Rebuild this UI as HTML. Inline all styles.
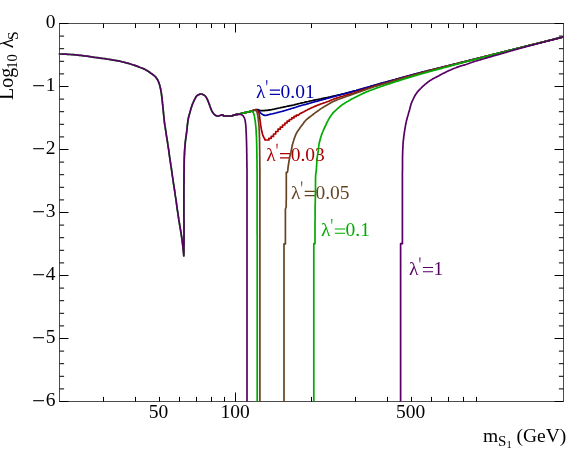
<!DOCTYPE html><html><head><meta charset="utf-8"><style>html,body{margin:0;padding:0;background:#fff}svg{display:block;will-change:transform}text{font-family:"Liberation Serif",serif}</style></head><body>
<svg width="581" height="450" viewBox="0 0 581 450">
<rect width="581" height="450" fill="#fff"/>
<text x="256.00" y="97.50" font-size="19.5" fill="#0000aa">λ</text>
<path d="M266.15 80.20h1.3l-0.35 5.0h-0.6z" fill="#0000aa"/>
<path d="M269.80 90.10h10.2M269.80 94.30h10.2" stroke="#0000aa" stroke-width="1.15" fill="none"/>
<text x="280.50" y="97.50" font-size="19.5" fill="#0000aa">0.01</text>
<text x="266.20" y="161.00" font-size="19.5" fill="#aa0000">λ</text>
<path d="M276.35 143.70h1.3l-0.35 5.0h-0.6z" fill="#aa0000"/>
<path d="M280.00 153.60h10.2M280.00 157.80h10.2" stroke="#aa0000" stroke-width="1.15" fill="none"/>
<text x="290.70" y="161.00" font-size="19.5" fill="#aa0000">0.03</text>
<text x="290.90" y="198.80" font-size="19.5" fill="#664422">λ</text>
<path d="M301.05 181.50h1.3l-0.35 5.0h-0.6z" fill="#664422"/>
<path d="M304.70 191.40h10.2M304.70 195.60h10.2" stroke="#664422" stroke-width="1.15" fill="none"/>
<text x="315.40" y="198.80" font-size="19.5" fill="#664422">0.05</text>
<text x="321.00" y="236.40" font-size="19.5" fill="#00aa00">λ</text>
<path d="M331.15 219.10h1.3l-0.35 5.0h-0.6z" fill="#00aa00"/>
<path d="M334.80 229.00h10.2M334.80 233.20h10.2" stroke="#00aa00" stroke-width="1.15" fill="none"/>
<text x="345.50" y="236.40" font-size="19.5" fill="#00aa00">0.1</text>
<text x="409.10" y="274.90" font-size="19.5" fill="#560064">λ</text>
<path d="M419.25 257.60h1.3l-0.35 5.0h-0.6z" fill="#560064"/>
<path d="M422.90 267.50h10.2M422.90 271.70h10.2" stroke="#560064" stroke-width="1.15" fill="none"/>
<text x="433.60" y="274.90" font-size="19.5" fill="#560064">1</text>
<g stroke="#000" stroke-width="1" fill="none" shape-rendering="auto">
<rect x="59.5" y="23.5" width="504.0" height="378.0" stroke="#222" stroke-width="0.8"/>
<path d="M59.5 23.50h9.0 M563.5 23.50h-9.0"/>
<path d="M59.5 36.10h4.6 M563.5 36.10h-4.6"/>
<path d="M59.5 48.70h4.6 M563.5 48.70h-4.6"/>
<path d="M59.5 61.30h4.6 M563.5 61.30h-4.6"/>
<path d="M59.5 73.90h4.6 M563.5 73.90h-4.6"/>
<path d="M59.5 86.50h9.0 M563.5 86.50h-9.0"/>
<path d="M59.5 99.10h4.6 M563.5 99.10h-4.6"/>
<path d="M59.5 111.70h4.6 M563.5 111.70h-4.6"/>
<path d="M59.5 124.30h4.6 M563.5 124.30h-4.6"/>
<path d="M59.5 136.90h4.6 M563.5 136.90h-4.6"/>
<path d="M59.5 149.50h9.0 M563.5 149.50h-9.0"/>
<path d="M59.5 162.10h4.6 M563.5 162.10h-4.6"/>
<path d="M59.5 174.70h4.6 M563.5 174.70h-4.6"/>
<path d="M59.5 187.30h4.6 M563.5 187.30h-4.6"/>
<path d="M59.5 199.90h4.6 M563.5 199.90h-4.6"/>
<path d="M59.5 212.50h9.0 M563.5 212.50h-9.0"/>
<path d="M59.5 225.10h4.6 M563.5 225.10h-4.6"/>
<path d="M59.5 237.70h4.6 M563.5 237.70h-4.6"/>
<path d="M59.5 250.30h4.6 M563.5 250.30h-4.6"/>
<path d="M59.5 262.90h4.6 M563.5 262.90h-4.6"/>
<path d="M59.5 275.50h9.0 M563.5 275.50h-9.0"/>
<path d="M59.5 288.10h4.6 M563.5 288.10h-4.6"/>
<path d="M59.5 300.70h4.6 M563.5 300.70h-4.6"/>
<path d="M59.5 313.30h4.6 M563.5 313.30h-4.6"/>
<path d="M59.5 325.90h4.6 M563.5 325.90h-4.6"/>
<path d="M59.5 338.50h9.0 M563.5 338.50h-9.0"/>
<path d="M59.5 351.10h4.6 M563.5 351.10h-4.6"/>
<path d="M59.5 363.70h4.6 M563.5 363.70h-4.6"/>
<path d="M59.5 376.30h4.6 M563.5 376.30h-4.6"/>
<path d="M59.5 388.90h4.6 M563.5 388.90h-4.6"/>
<path d="M59.5 401.50h9.0 M563.5 401.50h-9.0"/>
<path d="M103.50 401.5v-4.6 M103.50 23.5v4.6"/>
<path d="M135.50 401.5v-4.6 M135.50 23.5v4.6"/>
<path d="M159.50 401.5v-4.6 M159.50 23.5v4.6"/>
<path d="M179.50 401.5v-4.6 M179.50 23.5v4.6"/>
<path d="M196.50 401.5v-4.6 M196.50 23.5v4.6"/>
<path d="M211.50 401.5v-4.6 M211.50 23.5v4.6"/>
<path d="M224.50 401.5v-4.6 M224.50 23.5v4.6"/>
<path d="M235.50 401.5v-9.0 M235.50 23.5v9.0"/>
<path d="M311.50 401.5v-4.6 M311.50 23.5v4.6"/>
<path d="M355.50 401.5v-4.6 M355.50 23.5v4.6"/>
<path d="M387.50 401.5v-4.6 M387.50 23.5v4.6"/>
<path d="M411.50 401.5v-4.6 M411.50 23.5v4.6"/>
<path d="M431.50 401.5v-4.6 M431.50 23.5v4.6"/>
<path d="M448.50 401.5v-4.6 M448.50 23.5v4.6"/>
<path d="M463.50 401.5v-4.6 M463.50 23.5v4.6"/>
<path d="M476.50 401.5v-4.6 M476.50 23.5v4.6"/>
</g>
<g clip-path="url(#c)">
<clipPath id="c"><rect x="58.5" y="23.5" width="506.0" height="378.6"/></clipPath>
<polyline points="221.8,114.9 223.2,115.5 223.3,115.5 224.6,116.0 224.6,116.0 226.1,116.0 227.6,116.0 229.1,116.0 230.6,116.0 230.8,116.0 232.1,115.8 233.5,115.3 234.2,115.1 235.0,114.9 236.4,114.5 237.4,114.3 237.9,114.2 239.3,113.9 240.8,113.6 242.3,113.2 243.7,112.9 245.2,112.6 245.7,112.5 246.7,112.3 248.1,112.0 249.6,111.6 251.0,111.2 251.2,111.2 252.5,110.8 253.9,110.2 255.3,109.7 256.7,109.5 256.8,109.5 258.2,109.7 259.7,110.2 261.2,110.6 262.2,110.7 262.6,110.7 264.1,110.6 264.2,110.6 265.6,110.4 266.2,110.4 267.1,110.3 268.2,110.1 268.6,110.1 270.1,109.9 270.2,109.8 271.6,109.6 272.2,109.5 273.0,109.3 274.2,109.1 274.5,109.0 276.0,108.7 276.2,108.6 277.4,108.4 278.2,108.2 278.9,108.0 280.2,107.8 280.4,107.7 281.8,107.4 282.2,107.3 283.3,107.1 284.2,106.9 284.8,106.8 286.2,106.5 286.3,106.5 287.7,106.2 288.2,106.1 289.2,105.9 290.2,105.7 290.7,105.6 292.1,105.3 292.2,105.3 293.6,105.0 294.2,104.9 295.1,104.6 296.2,104.3 296.5,104.3 298.0,103.9 298.2,103.8 299.4,103.5 300.2,103.3 300.9,103.1 302.2,102.8 302.3,102.8 303.8,102.5 304.2,102.4 305.2,102.1 306.2,101.9 306.7,101.8 308.2,101.5 308.2,101.5 309.6,101.1 310.2,101.0 311.1,100.8 312.2,100.6 312.6,100.5 314.0,100.2 314.2,100.2 315.5,99.9 316.2,99.8 317.0,99.6 318.2,99.4 318.5,99.3 319.9,99.0 320.2,99.0 321.4,98.7 322.2,98.6 322.9,98.4 324.2,98.2 324.3,98.1 325.8,97.8 326.2,97.8 327.3,97.5 328.2,97.3 328.7,97.2 330.2,96.9 330.2,96.9 331.7,96.5 332.2,96.4 333.1,96.2 334.2,95.9 334.6,95.8 336.0,95.5 336.2,95.5 337.5,95.2 338.2,95.0 339.0,94.8 340.2,94.6 340.4,94.5 341.9,94.2 342.2,94.1 343.4,93.9 344.2,93.7 344.8,93.5 346.2,93.1 346.3,93.1 347.7,92.7 348.2,92.6 349.2,92.4 350.2,92.1 350.6,92.0 352.1,91.6 352.2,91.5 353.5,91.2 354.2,91.0 355.0,90.8 356.2,90.5 356.4,90.4 357.9,90.0 358.2,89.9 359.3,89.6 360.2,89.4 360.8,89.2 362.2,88.8 362.2,88.8 363.6,88.4 364.2,88.3 365.1,88.0 366.2,87.7 366.5,87.6 368.0,87.2 368.2,87.1 369.4,86.7 370.2,86.5 370.8,86.3 372.2,85.9 372.3,85.9 373.7,85.5 374.2,85.3 375.2,85.1 376.2,84.8 376.6,84.6 378.0,84.2 378.2,84.2 379.5,83.8 380.2,83.6 380.9,83.4 382.2,83.1 382.4,83.0 383.8,82.6 384.2,82.5 385.3,82.2 386.2,82.0 386.7,81.9 388.2,81.5 388.2,81.4 389.6,81.1 390.2,80.9 391.1,80.7 392.2,80.3 392.5,80.3 394.0,79.9 394.2,79.8 395.4,79.5 396.2,79.2 396.8,79.1 398.2,78.7 398.3,78.7 399.7,78.3 400.2,78.1 401.2,77.9 402.2,77.6 402.6,77.5 404.1,77.1 404.2,77.0 405.5,76.7 406.2,76.5 407.0,76.3 408.2,75.9 408.4,75.9 409.9,75.5 410.2,75.4 411.3,75.1 412.2,74.8 412.8,74.7 414.2,74.3 414.2,74.3 415.7,73.9 416.2,73.7 417.1,73.5 418.2,73.2 418.6,73.1 420.0,72.8 420.2,72.7 421.5,72.4 422.2,72.2 422.9,72.0 424.2,71.7 424.4,71.7 425.8,71.3 426.2,71.2 427.3,70.9 428.2,70.7 428.7,70.6 430.2,70.2 430.2,70.2 431.7,69.9 432.2,69.7 433.1,69.5 434.2,69.2 434.6,69.1 436.0,68.8 436.2,68.7 437.5,68.4 438.2,68.2 438.9,68.1 440.2,67.8 440.4,67.7 441.8,67.3 442.2,67.2 443.3,67.0 444.2,66.8 444.8,66.6 446.2,66.2 446.2,66.2 447.7,65.9 448.2,65.8 449.1,65.5 450.2,65.2 450.6,65.2 452.0,64.8 452.2,64.8 453.5,64.4 454.2,64.2 454.9,64.1 456.2,63.8 456.4,63.7 457.9,63.3 458.2,63.2 459.3,63.0 460.2,62.8 460.8,62.6 462.2,62.2 462.2,62.2 463.7,61.9 464.2,61.8 465.1,61.5 466.2,61.3 466.6,61.2 468.0,60.8 468.2,60.8 469.5,60.4 470.2,60.3 470.9,60.1 472.2,59.8 472.4,59.7 473.9,59.3 474.2,59.3 475.3,59.0 476.2,58.8 476.8,58.6 478.2,58.3 478.2,58.2 479.7,57.9 480.2,57.8 481.1,57.5 482.2,57.3 482.6,57.2 484.0,56.8 484.2,56.8 485.5,56.4 486.2,56.3 487.0,56.1 488.2,55.8 488.4,55.7 489.9,55.3 490.2,55.3 491.3,55.0 492.2,54.8 492.8,54.6 494.2,54.3 494.2,54.2 495.7,53.9 496.2,53.8 497.1,53.5 498.2,53.3 498.6,53.2 500.1,52.8 500.2,52.7 501.5,52.4 502.2,52.2 503.0,52.1 504.2,51.7 504.4,51.7 505.9,51.3 506.2,51.2 507.3,51.0 508.2,50.7 508.8,50.6 510.2,50.2 510.2,50.2 511.7,49.9 512.2,49.7 513.1,49.5 514.2,49.2 514.6,49.1 516.1,48.8 516.2,48.7 517.5,48.4 518.2,48.2 519.0,48.1 520.2,47.7 520.4,47.7 521.9,47.3 522.2,47.2 523.3,47.0 524.2,46.7 524.8,46.6 526.2,46.2 526.2,46.2 527.7,45.9 528.2,45.7 529.2,45.5 530.2,45.2 530.6,45.1 532.1,44.8 532.2,44.7 533.5,44.4 534.2,44.2 535.0,44.0 536.2,43.7 536.4,43.7 537.9,43.3 538.2,43.2 539.3,43.0 540.2,42.7 540.8,42.6 542.2,42.2 542.2,42.2 543.7,41.9 544.2,41.7 545.2,41.5 546.2,41.2 546.6,41.1 548.1,40.8 548.2,40.7 549.5,40.4 550.2,40.2 551.0,40.0 552.2,39.7 552.4,39.7 553.9,39.3 554.2,39.2 555.3,38.9 556.2,38.7 556.8,38.6 558.2,38.2 558.3,38.2 559.7,37.8 560.2,37.7 561.2,37.5 562.2,37.2 562.6,37.1 563.5,36.9" fill="none" stroke="#000000" stroke-width="1.7" stroke-linejoin="round" stroke-linecap="butt"/>
<polyline points="221.8,114.9 223.2,115.5 223.3,115.5 224.6,116.0 224.6,116.0 226.1,116.0 227.6,116.0 229.1,116.0 230.6,116.0 230.8,116.0 232.1,115.8 233.5,115.3 234.2,115.1 235.0,114.9 236.4,114.5 237.4,114.3 237.9,114.2 239.3,113.9 240.8,113.6 242.3,113.2 243.7,112.9 245.2,112.6 245.7,112.5 246.7,112.3 248.1,111.9 249.6,111.6 251.0,111.2 251.2,111.2 252.5,110.9 254.1,110.4 255.6,110.0 257.0,109.8 257.4,109.8 258.1,110.1 259.2,111.2 260.2,112.6 260.8,113.2 261.3,113.6 262.6,114.5 264.0,115.2 264.9,115.3 265.4,115.3 266.9,115.1 268.4,114.7 269.9,114.3 270.4,114.2 271.3,114.0 272.4,113.8 272.8,113.7 274.3,113.3 274.4,113.3 275.7,113.0 276.4,112.8 277.2,112.6 278.4,112.3 278.6,112.3 280.1,111.9 280.4,111.8 281.5,111.5 282.4,111.3 283.0,111.1 284.4,110.7 284.4,110.7 285.9,110.3 286.4,110.1 287.3,109.8 288.4,109.5 288.7,109.4 290.2,109.0 290.4,108.9 291.6,108.5 292.4,108.3 293.0,108.1 294.4,107.7 294.5,107.7 295.9,107.2 296.4,107.0 297.3,106.7 298.4,106.4 298.8,106.3 300.2,105.8 300.4,105.8 301.6,105.4 302.4,105.2 303.1,105.0 304.4,104.7 304.5,104.6 306.0,104.3 306.4,104.1 307.4,103.9 308.4,103.6 308.9,103.5 310.3,103.0 310.4,103.0 311.8,102.6 312.4,102.4 313.2,102.2 314.4,101.9 314.6,101.8 316.1,101.4 316.4,101.4 317.5,101.1 318.4,100.8 319.0,100.7 320.4,100.3 320.4,100.3 321.9,99.9 322.4,99.8 323.3,99.5 324.4,99.2 324.8,99.1 326.2,98.7 326.4,98.7 327.7,98.3 328.4,98.1 329.1,97.9 330.4,97.6 330.6,97.5 332.0,97.1 332.4,97.0 333.5,96.7 334.4,96.4 334.9,96.3 336.3,95.9 336.4,95.9 337.8,95.5 338.4,95.4 339.2,95.1 340.4,94.8 340.7,94.8 342.2,94.4 342.4,94.3 343.6,94.0 344.4,93.8 345.1,93.6 346.4,93.2 346.5,93.2 347.9,92.8 348.4,92.7 349.4,92.4 350.4,92.1 350.8,92.0 352.3,91.6 352.4,91.6 353.7,91.2 354.4,91.0 355.2,90.8 356.4,90.5 356.6,90.4 358.1,90.0 358.4,89.9 359.5,89.6 360.4,89.4 360.9,89.2 362.4,88.8 362.4,88.8 363.8,88.4 364.4,88.2 365.3,88.0 366.4,87.6 366.7,87.5 368.1,87.1 368.4,87.0 369.6,86.7 370.4,86.4 371.0,86.3 372.4,85.8 372.5,85.8 373.9,85.4 374.4,85.3 375.3,85.0 376.4,84.7 376.8,84.6 378.2,84.2 378.4,84.1 379.7,83.8 380.4,83.6 381.1,83.4 382.4,83.0 382.6,83.0 384.0,82.6 384.4,82.5 385.5,82.2 386.4,81.9 386.9,81.8 388.4,81.4 388.4,81.4 389.8,81.0 390.4,80.8 391.3,80.6 392.4,80.3 392.7,80.2 394.1,79.8 394.4,79.7 395.6,79.4 396.4,79.2 397.0,79.0 398.4,78.6 398.5,78.6 399.9,78.2 400.4,78.1 401.4,77.8 402.4,77.5 402.8,77.4 404.3,77.0 404.4,77.0 405.7,76.6 406.4,76.4 407.2,76.2 408.4,75.9 408.6,75.8 410.0,75.4 410.4,75.3 411.5,75.0 412.4,74.8 412.9,74.6 414.4,74.2 414.4,74.2 415.8,73.8 416.4,73.7 417.3,73.5 418.4,73.2 418.7,73.1 420.2,72.7 420.4,72.7 421.6,72.3 422.4,72.2 423.1,72.0 424.4,71.7 424.6,71.6 426.0,71.3 426.4,71.2 427.5,70.9 428.4,70.7 428.9,70.5 430.4,70.2 430.4,70.2 431.8,69.8 432.4,69.7 433.3,69.5 434.4,69.2 434.8,69.1 436.2,68.7 436.4,68.7 437.7,68.4 438.4,68.2 439.1,68.0 440.4,67.7 440.6,67.7 442.0,67.3 442.4,67.2 443.5,66.9 444.4,66.7 444.9,66.6 446.4,66.2 446.4,66.2 447.9,65.8 448.4,65.7 449.3,65.5 450.4,65.2 450.8,65.1 452.2,64.7 452.4,64.7 453.7,64.4 454.4,64.2 455.1,64.0 456.4,63.7 456.6,63.7 458.0,63.3 458.4,63.2 459.5,62.9 460.4,62.7 460.9,62.6 462.4,62.2 462.4,62.2 463.9,61.8 464.4,61.7 465.3,61.5 466.4,61.2 466.8,61.1 468.2,60.7 468.4,60.7 469.7,60.4 470.4,60.2 471.1,60.0 472.4,59.7 472.6,59.7 474.0,59.3 474.4,59.2 475.5,58.9 476.4,58.7 477.0,58.6 478.4,58.2 478.4,58.2 479.9,57.8 480.4,57.7 481.3,57.5 482.4,57.2 482.8,57.1 484.2,56.7 484.4,56.7 485.7,56.4 486.4,56.2 487.1,56.0 488.4,55.7 488.6,55.7 490.1,55.3 490.4,55.2 491.5,54.9 492.4,54.7 493.0,54.6 494.4,54.2 494.4,54.2 495.9,53.8 496.4,53.7 497.3,53.5 498.4,53.2 498.8,53.1 500.2,52.7 500.4,52.7 501.7,52.4 502.4,52.2 503.2,52.0 504.4,51.7 504.6,51.6 506.1,51.3 506.4,51.2 507.5,50.9 508.4,50.7 509.0,50.6 510.4,50.2 510.4,50.2 511.9,49.8 512.4,49.7 513.3,49.5 514.4,49.2 514.8,49.1 516.2,48.7 516.4,48.7 517.7,48.4 518.4,48.2 519.2,48.0 520.4,47.7 520.6,47.6 522.1,47.3 522.4,47.2 523.5,46.9 524.4,46.7 525.0,46.5 526.4,46.2 526.4,46.2 527.9,45.8 528.4,45.7 529.3,45.5 530.4,45.2 530.8,45.1 532.3,44.7 532.4,44.7 533.7,44.4 534.4,44.2 535.2,44.0 536.4,43.7 536.6,43.6 538.1,43.3 538.4,43.2 539.5,42.9 540.4,42.7 541.0,42.5 542.4,42.2 542.4,42.2 543.9,41.8 544.4,41.7 545.3,41.4 546.4,41.2 546.8,41.1 548.3,40.7 548.4,40.7 549.7,40.4 550.4,40.2 551.2,40.0 552.4,39.7 552.6,39.6 554.1,39.3 554.4,39.2 555.5,38.9 556.4,38.7 557.0,38.5 558.4,38.2 558.4,38.2 559.9,37.8 560.4,37.7 561.4,37.4 562.4,37.2 562.8,37.1 563.5,36.9" fill="none" stroke="#0000aa" stroke-width="1.7" stroke-linejoin="round" stroke-linecap="butt"/>
<polyline points="221.8,114.9 223.2,115.5 223.3,115.5 224.6,116.0 224.6,116.0 226.1,116.0 227.6,116.0 229.1,116.0 230.6,116.0 230.8,116.0 232.1,115.8 233.5,115.3 234.2,115.1 235.0,114.9 236.4,114.5 237.4,114.3 237.9,114.2 239.3,113.9 240.8,113.6 242.3,113.2 243.7,112.9 245.2,112.6 245.7,112.5 246.7,112.3 248.1,111.9 249.6,111.6 251.0,111.2 251.2,111.2 252.5,110.8 254.0,110.2 255.4,109.8 256.0,109.8 256.7,110.0 257.9,111.1 258.7,112.5 258.7,112.5 259.1,113.8 259.4,115.2 259.6,116.8 259.8,118.3 260.0,119.9 260.1,120.8 260.2,121.4 260.4,122.9 260.6,124.4 260.8,125.9 261.1,127.4 261.3,128.8 261.6,130.3 261.9,131.8 261.9,131.8 262.3,133.2 262.7,134.7 263.2,136.2 263.9,137.5 264.2,138.0 264.7,138.6 264.8,140.0 268.9,140.0 268.9,138.3 271.2,138.3 271.2,136.4 273.5,136.4 273.5,134.0 275.7,134.0 275.7,131.5 278.0,131.5 278.0,129.2 280.3,129.2 280.3,127.1 282.6,127.1 282.6,125.0 284.9,125.0 284.9,123.0 287.1,123.0 287.1,121.2 289.4,121.2 289.4,119.5 291.7,119.5 291.7,117.9 294.0,117.9 294.0,116.4 296.3,116.4 296.3,115.2 298.5,115.2 299.3,114.2 299.9,113.8 301.2,113.1 301.3,113.1 302.5,112.4 303.3,112.0 303.9,111.7 305.2,111.0 305.3,110.9 306.5,110.3 307.3,109.9 307.8,109.6 309.2,108.9 309.3,108.9 310.5,108.3 311.3,107.9 311.9,107.6 313.3,107.0 313.3,107.0 314.6,106.4 315.3,106.1 316.0,105.9 317.3,105.3 317.4,105.3 318.8,104.7 319.3,104.6 320.2,104.2 321.3,103.8 321.6,103.7 323.0,103.2 323.3,103.1 324.5,102.7 325.3,102.5 325.9,102.2 327.3,101.7 327.3,101.7 328.7,101.2 329.3,100.9 330.1,100.6 331.3,100.1 331.5,100.0 332.9,99.5 333.3,99.3 334.3,98.9 335.3,98.5 335.7,98.4 337.1,97.9 337.3,97.9 338.5,97.5 339.3,97.2 339.9,97.0 341.3,96.6 341.4,96.6 342.8,96.2 343.3,96.0 344.2,95.7 345.3,95.4 345.7,95.3 347.1,94.9 347.3,94.9 348.6,94.5 349.3,94.3 350.0,94.1 351.3,93.7 351.5,93.7 352.9,93.2 353.3,93.1 354.3,92.8 355.3,92.4 355.7,92.3 357.2,91.8 357.3,91.8 358.6,91.3 359.3,91.1 360.0,90.9 361.3,90.4 361.4,90.4 362.9,89.9 363.3,89.8 364.3,89.5 365.3,89.1 365.7,89.0 367.1,88.5 367.3,88.5 368.6,88.0 369.3,87.8 370.0,87.6 371.3,87.2 371.4,87.1 372.8,86.7 373.3,86.5 374.3,86.2 375.3,85.9 375.7,85.8 377.1,85.4 377.3,85.3 378.6,85.0 379.3,84.7 380.0,84.5 381.3,84.2 381.5,84.1 382.9,83.7 383.3,83.6 384.4,83.3 385.3,83.1 385.8,82.9 387.3,82.5 387.3,82.5 388.7,82.1 389.3,81.9 390.1,81.7 391.3,81.3 391.6,81.2 393.0,80.8 393.3,80.7 394.4,80.4 395.3,80.1 395.9,79.9 397.3,79.5 397.3,79.5 398.7,79.1 399.3,78.9 400.2,78.6 401.3,78.3 401.6,78.2 403.1,77.8 403.3,77.7 404.5,77.4 405.3,77.2 406.0,77.0 407.3,76.6 407.4,76.6 408.8,76.2 409.3,76.0 410.3,75.8 411.3,75.5 411.7,75.4 413.2,75.0 413.3,74.9 414.6,74.6 415.3,74.4 416.1,74.2 417.3,73.9 417.5,73.8 419.0,73.4 419.3,73.3 420.4,73.0 421.3,72.8 421.9,72.6 423.3,72.3 423.3,72.3 424.8,71.9 425.3,71.8 426.2,71.5 427.3,71.2 427.7,71.1 429.1,70.8 429.3,70.7 430.6,70.4 431.3,70.2 432.0,70.0 433.3,69.7 433.5,69.7 434.9,69.3 435.3,69.2 436.4,68.9 437.3,68.7 437.9,68.5 439.3,68.2 439.3,68.2 440.8,67.8 441.3,67.7 442.2,67.4 443.3,67.2 443.7,67.1 445.1,66.7 445.3,66.6 446.6,66.3 447.3,66.1 448.0,66.0 449.3,65.6 449.5,65.6 450.9,65.2 451.3,65.1 452.4,64.8 453.3,64.6 453.8,64.5 455.3,64.1 455.3,64.1 456.8,63.7 457.3,63.6 458.2,63.4 459.3,63.1 459.7,63.0 461.1,62.6 461.3,62.6 462.6,62.3 463.3,62.1 464.0,61.9 465.3,61.6 465.5,61.5 466.9,61.2 467.3,61.1 468.4,60.8 469.3,60.6 469.8,60.4 471.3,60.1 471.3,60.1 472.7,59.7 473.3,59.5 474.2,59.3 475.3,59.0 475.7,59.0 477.1,58.6 477.3,58.5 478.6,58.2 479.3,58.0 480.0,57.8 481.3,57.5 481.5,57.5 482.9,57.1 483.3,57.0 484.4,56.7 485.3,56.5 485.8,56.4 487.3,56.0 487.3,56.0 488.7,55.6 489.3,55.5 490.2,55.3 491.3,55.0 491.7,54.9 493.1,54.5 493.3,54.5 494.6,54.2 495.3,54.0 496.0,53.8 497.3,53.5 497.5,53.4 498.9,53.1 499.3,53.0 500.4,52.7 501.3,52.5 501.8,52.3 503.3,52.0 503.3,52.0 504.7,51.6 505.3,51.5 506.2,51.2 507.3,51.0 507.7,50.9 509.1,50.5 509.3,50.5 510.6,50.1 511.3,50.0 512.0,49.8 513.3,49.5 513.5,49.4 514.9,49.0 515.3,49.0 516.4,48.7 517.3,48.4 517.8,48.3 519.3,48.0 519.3,47.9 520.7,47.6 521.3,47.4 522.2,47.2 523.3,46.9 523.7,46.9 525.1,46.5 525.3,46.4 526.6,46.1 527.3,45.9 528.0,45.8 529.3,45.4 529.5,45.4 530.9,45.0 531.3,44.9 532.4,44.7 533.3,44.4 533.8,44.3 535.3,43.9 535.3,43.9 536.7,43.6 537.3,43.4 538.2,43.2 539.3,42.9 539.7,42.8 541.1,42.5 541.3,42.4 542.6,42.1 543.3,41.9 544.0,41.8 545.3,41.4 545.5,41.4 546.9,41.0 547.3,40.9 548.4,40.7 549.3,40.4 549.8,40.3 551.3,39.9 551.3,39.9 552.8,39.6 553.3,39.4 554.2,39.2 555.3,38.9 555.7,38.8 557.1,38.5 557.3,38.4 558.6,38.1 559.3,37.9 560.0,37.8 561.3,37.4 561.5,37.4 562.9,37.0 563.3,36.9 563.5,36.9" fill="none" stroke="#aa0000" stroke-width="1.7" stroke-linejoin="round" stroke-linecap="butt"/>
<polyline points="221.8,114.9 223.2,115.5 223.3,115.5 224.6,116.0 224.6,116.0 226.1,116.0 227.6,116.0 229.1,116.0 230.6,116.0 230.8,116.0 232.1,115.8 233.5,115.3 234.2,115.1 235.0,114.9 236.4,114.5 237.4,114.3 237.9,114.2 239.3,113.9 240.8,113.6 242.3,113.2 243.7,112.9 245.2,112.6 245.7,112.5 246.7,112.3 248.1,112.0 249.6,111.6 251.0,111.2 251.2,111.2 252.5,110.6 253.9,109.9 254.6,109.8 255.2,110.0 256.4,111.1 256.9,111.9 257.1,112.3 257.4,113.7 257.7,115.2 258.0,116.7 258.2,118.3 258.3,119.4 258.4,119.8 258.5,121.3 258.7,122.8 258.8,124.3 259.0,125.8 259.1,127.3 259.1,128.0 259.1,128.8 259.2,130.3 259.3,131.8 259.3,133.3 259.4,134.8 259.4,136.3 259.5,137.8 259.5,139.3 259.5,140.8 259.6,142.3 259.6,143.8 259.6,145.0 259.6,145.3 259.6,146.8 259.6,148.3 259.7,149.8 259.7,151.3 259.7,152.8 259.7,154.3 259.7,155.8 259.8,157.3 259.8,158.8 259.8,160.3 259.8,161.8 259.8,163.3 259.8,164.8 259.8,166.3 259.9,167.8 259.9,169.3 259.9,170.8 259.9,172.3 259.9,173.8 259.9,175.3 259.9,176.8 259.9,178.3 259.9,179.8 259.9,180.0 259.9,181.3 259.9,182.8 259.9,184.3 259.9,185.8 259.9,187.3 259.9,188.8 259.9,190.3 259.9,191.8 259.9,193.3 259.9,194.8 259.9,196.3 259.9,197.8 259.9,199.3 259.9,200.8 259.9,202.3 259.9,203.8 259.9,205.3 259.9,206.8 259.9,208.3 259.9,209.8 259.9,211.3 259.9,212.8 259.9,214.3 259.9,215.8 259.9,217.3 259.9,218.8 259.9,220.3 259.9,221.8 259.9,223.3 259.9,224.8 259.9,226.3 259.9,227.8 259.9,229.3 259.9,230.8 259.9,232.3 259.9,233.8 259.9,235.3 259.9,236.8 259.9,238.3 259.9,239.8 259.9,241.3 259.9,242.8 259.9,244.3 259.9,245.8 259.9,247.3 259.9,248.8 259.9,250.3 259.9,251.8 259.9,253.3 259.9,254.8 259.9,256.3 259.9,257.8 259.9,259.3 259.9,260.8 259.9,262.3 259.9,263.8 259.9,265.3 259.9,266.8 259.9,268.3 259.9,269.8 259.9,271.3 259.9,272.8 259.9,274.3 259.9,275.8 259.9,277.3 259.9,278.8 259.9,280.3 259.9,281.8 259.9,283.3 259.9,284.8 259.9,286.3 259.9,287.8 259.9,289.3 259.9,290.8 259.9,292.3 259.9,293.8 259.9,295.3 259.9,296.8 259.9,298.3 259.9,299.8 259.9,301.3 259.9,302.8 259.9,304.3 259.9,305.8 259.9,307.3 259.9,308.8 259.9,310.3 259.9,311.8 259.9,313.3 259.9,314.8 259.9,316.3 259.9,317.8 259.9,319.3 259.9,320.8 259.9,322.3 259.9,323.8 259.9,325.3 259.9,326.8 259.9,328.3 259.9,329.8 259.9,331.3 259.9,332.8 259.9,334.3 259.9,335.8 259.9,337.3 259.9,338.8 259.9,340.3 259.9,341.8 259.9,343.3 259.9,344.8 259.9,346.3 259.9,347.8 259.9,349.3 259.9,350.8 259.9,352.3 259.9,353.8 259.9,355.3 259.9,356.8 259.9,358.3 259.9,359.8 259.9,361.3 259.9,362.8 259.9,364.3 259.9,365.8 259.9,367.3 259.9,368.8 259.9,370.3 259.9,371.8 259.9,373.3 259.9,374.8 259.9,376.3 259.9,377.8 259.9,379.3 259.9,380.8 259.9,382.3 259.9,383.8 259.9,385.3 259.9,386.8 259.9,388.3 259.9,389.8 259.9,391.3 259.9,392.8 259.9,394.3 259.9,395.8 259.9,397.3 259.9,398.8 259.9,400.3 259.9,401.5" fill="none" stroke="#664422" stroke-width="1.7" stroke-linejoin="round" stroke-linecap="butt"/>
<polyline points="284.0,401.5 284.0,243.9 285.4,243.9 285.4,242.3 285.4,240.7 285.4,239.1 285.4,237.6 285.4,236.0 285.4,234.5 285.4,232.9 285.4,231.4 285.4,229.9 285.4,228.4 285.4,226.9 285.4,225.4 285.4,223.9 285.4,222.4 285.4,221.0 285.4,219.5 285.4,218.0 285.4,216.6 285.4,215.1 285.4,213.7 285.4,212.2 285.4,210.8 285.4,209.4 285.4,209.0 285.8,208.0 286.2,207.0 286.2,206.6 286.2,205.1 286.2,203.7 286.2,202.2 286.2,200.7 286.3,199.3 286.3,197.8 286.3,196.3 286.3,194.8 286.3,193.3 286.3,191.7 286.3,190.2 286.3,188.7 286.3,187.2 286.3,185.7 286.3,184.1 286.3,182.6 286.3,181.1 286.3,179.6 286.3,178.1 286.3,176.6 286.3,175.1 286.3,175.0 286.3,173.2 286.3,172.4 286.6,172.4 287.1,172.4 287.4,172.1 287.7,170.9 287.9,169.1 288.1,167.1 288.3,165.7 288.3,165.5 288.6,164.0 288.8,162.5 289.0,161.0 289.3,159.5 289.5,158.3 289.5,158.1 289.8,156.6 290.2,155.1 290.5,153.7 290.9,152.2 291.2,150.7 291.4,149.8 291.5,149.3 291.8,147.8 292.1,146.3 292.4,145.0 292.4,144.9 292.8,143.4 293.2,142.0 293.7,140.5 294.1,139.1 294.4,138.4 294.6,137.7 295.1,136.3 295.7,134.9 296.3,133.5 296.4,133.3 297.0,132.2 297.8,131.0 298.4,130.1 298.7,129.7 299.6,128.5 300.4,127.3 300.4,127.3 301.3,126.1 302.2,124.9 302.4,124.7 303.1,123.7 304.0,122.4 304.4,121.9 304.9,121.3 305.9,120.2 306.4,119.7 307.0,119.1 308.2,118.2 308.4,118.0 309.4,117.3 310.4,116.5 310.6,116.4 311.8,115.4 312.4,115.0 313.0,114.5 314.1,113.6 314.4,113.4 315.3,112.7 316.4,111.9 316.6,111.8 317.8,111.0 318.4,110.5 319.0,110.1 320.2,109.2 320.4,109.1 321.5,108.4 322.4,107.8 322.7,107.6 324.0,106.8 324.4,106.6 325.3,106.0 326.4,105.4 326.6,105.3 327.9,104.5 328.4,104.2 329.2,103.8 330.4,103.1 330.5,103.0 331.8,102.3 332.4,102.0 333.2,101.6 334.4,101.0 334.5,101.0 335.9,100.4 336.4,100.1 337.3,99.8 338.4,99.3 338.6,99.2 340.1,98.7 340.4,98.6 341.5,98.2 342.4,97.9 342.9,97.7 344.3,97.2 344.4,97.2 345.7,96.7 346.4,96.5 347.1,96.2 348.4,95.8 348.6,95.8 350.0,95.3 350.4,95.1 351.4,94.8 352.4,94.5 352.8,94.3 354.2,93.8 354.4,93.7 355.6,93.3 356.4,93.0 357.1,92.8 358.4,92.3 358.5,92.3 359.9,91.8 360.4,91.6 361.3,91.3 362.4,90.9 362.7,90.8 364.1,90.3 364.4,90.1 365.5,89.7 366.4,89.4 366.9,89.2 368.4,88.7 368.4,88.7 369.8,88.2 370.4,88.0 371.2,87.8 372.4,87.3 372.6,87.3 374.0,86.8 374.4,86.7 375.5,86.4 376.4,86.1 376.9,85.9 378.3,85.5 378.4,85.5 379.8,85.1 380.4,84.9 381.2,84.6 382.4,84.3 382.7,84.2 384.1,83.8 384.4,83.7 385.5,83.4 386.4,83.2 387.0,83.0 388.4,82.6 388.4,82.6 389.9,82.1 390.4,82.0 391.3,81.7 392.4,81.4 392.7,81.3 394.2,80.8 394.4,80.8 395.6,80.4 396.4,80.2 397.0,80.0 398.4,79.6 398.5,79.6 399.9,79.1 400.4,79.0 401.4,78.7 402.4,78.4 402.8,78.3 404.2,77.9 404.4,77.8 405.7,77.4 406.4,77.2 407.1,77.0 408.4,76.7 408.6,76.6 410.0,76.2 410.4,76.1 411.4,75.8 412.4,75.5 412.9,75.4 414.3,75.0 414.4,74.9 415.8,74.6 416.4,74.4 417.2,74.2 418.4,73.8 418.7,73.8 420.1,73.4 420.4,73.3 421.6,73.0 422.4,72.8 423.0,72.6 424.4,72.2 424.5,72.2 425.9,71.8 426.4,71.7 427.4,71.4 428.4,71.1 428.8,71.0 430.3,70.7 430.4,70.6 431.7,70.3 432.4,70.1 433.2,69.9 434.4,69.6 434.6,69.5 436.1,69.1 436.4,69.0 437.5,68.8 438.4,68.5 439.0,68.4 440.4,68.0 440.4,68.0 441.9,67.6 442.4,67.5 443.3,67.2 444.4,67.0 444.8,66.9 446.2,66.5 446.4,66.4 447.7,66.1 448.4,65.9 449.1,65.7 450.4,65.4 450.6,65.4 452.0,65.0 452.4,64.9 453.5,64.6 454.4,64.4 454.9,64.2 456.4,63.9 456.4,63.9 457.8,63.5 458.4,63.3 459.3,63.1 460.4,62.8 460.7,62.7 462.2,62.4 462.4,62.3 463.6,62.0 464.4,61.8 465.1,61.6 466.4,61.3 466.6,61.3 468.0,60.9 468.4,60.8 469.5,60.5 470.4,60.3 470.9,60.1 472.4,59.8 472.4,59.8 473.8,59.4 474.4,59.3 475.3,59.0 476.4,58.8 476.7,58.7 478.2,58.3 478.4,58.2 479.6,57.9 480.4,57.7 481.1,57.6 482.4,57.2 482.5,57.2 484.0,56.8 484.4,56.7 485.5,56.5 486.4,56.2 486.9,56.1 488.4,55.7 488.4,55.7 489.8,55.4 490.4,55.2 491.3,55.0 492.4,54.7 492.7,54.6 494.2,54.3 494.4,54.2 495.6,53.9 496.4,53.7 497.1,53.5 498.4,53.2 498.5,53.2 500.0,52.8 500.4,52.7 501.5,52.4 502.4,52.2 502.9,52.1 504.4,51.7 504.4,51.7 505.8,51.3 506.4,51.2 507.3,51.0 508.4,50.7 508.7,50.6 510.2,50.2 510.4,50.2 511.6,49.9 512.4,49.7 513.1,49.5 514.4,49.2 514.5,49.1 516.0,48.8 516.4,48.7 517.5,48.4 518.4,48.2 518.9,48.0 520.4,47.7 520.4,47.7 521.8,47.3 522.4,47.2 523.3,46.9 524.4,46.7 524.7,46.6 526.2,46.2 526.4,46.2 527.6,45.9 528.4,45.7 529.1,45.5 530.4,45.2 530.6,45.1 532.0,44.8 532.4,44.7 533.5,44.4 534.4,44.2 534.9,44.0 536.4,43.7 536.4,43.7 537.8,43.3 538.4,43.2 539.3,42.9 540.4,42.7 540.7,42.6 542.2,42.2 542.4,42.2 543.6,41.8 544.4,41.7 545.1,41.5 546.4,41.2 546.6,41.1 548.0,40.8 548.4,40.7 549.5,40.4 550.4,40.2 550.9,40.0 552.4,39.7 552.4,39.7 553.8,39.3 554.4,39.2 555.3,38.9 556.4,38.7 556.7,38.6 558.2,38.2 558.4,38.2 559.7,37.9 560.4,37.7 561.1,37.5 562.4,37.2 562.6,37.1 563.5,36.9" fill="none" stroke="#664422" stroke-width="1.7" stroke-linejoin="round" stroke-linecap="butt"/>
<polyline points="58.5,54.0 59.5,54.0 60.0,54.0 61.5,54.0 63.0,54.1 64.5,54.1 66.0,54.2 67.5,54.3 69.0,54.4 70.5,54.5 72.0,54.6 73.5,54.7 75.0,54.8 75.7,54.9 76.5,55.0 78.0,55.1 79.5,55.3 80.9,55.4 82.4,55.6 83.9,55.8 85.4,56.0 86.0,56.1 86.9,56.2 88.4,56.4 89.9,56.6 91.4,56.9 92.8,57.1 94.3,57.3 95.8,57.5 96.3,57.6 97.3,57.7 98.8,57.9 100.3,58.1 101.7,58.3 103.2,58.5 104.7,58.7 106.2,58.9 106.6,59.0 107.7,59.2 109.2,59.4 110.7,59.6 112.1,59.8 113.6,60.1 115.1,60.3 116.6,60.6 117.0,60.7 118.0,60.9 119.5,61.2 121.0,61.5 122.4,61.9 123.9,62.2 125.4,62.6 126.8,63.0 127.3,63.1 128.3,63.4 129.7,63.8 131.1,64.2 132.6,64.7 134.0,65.1 135.4,65.6 136.8,66.1 137.6,66.4 138.2,66.6 139.6,67.2 141.0,67.7 142.4,68.3 143.8,68.9 145.2,69.5 145.9,69.9 146.5,70.2 147.7,71.0 149.0,71.8 150.2,72.7 151.4,73.6 151.7,73.8 152.7,74.5 153.9,75.4 155.0,76.3 155.4,76.7 156.0,77.4 156.9,78.7 157.7,80.0 158.1,80.8 158.3,81.3 158.9,82.7 159.3,84.1 159.8,85.6 160.0,86.5 160.1,87.0 160.5,88.5 160.8,90.0 161.0,91.4 161.3,92.9 161.4,93.7 161.5,94.4 161.7,95.9 161.9,97.4 162.1,98.9 162.2,100.4 162.4,101.9 162.4,102.0 162.5,103.4 162.7,104.8 162.8,106.3 163.0,107.8 163.1,109.3 163.3,110.8 163.4,112.3 163.4,112.3 163.6,113.8 163.7,115.3 163.9,116.8 164.0,118.3 164.2,119.8 164.3,121.3 164.5,122.6 164.5,122.8 164.7,124.2 164.9,125.7 165.2,127.2 165.4,128.7 165.6,130.0 165.6,130.2 165.9,131.7 166.1,133.1 166.3,134.6 166.5,136.1 166.8,137.6 167.0,139.1 167.2,140.5 167.5,142.0 167.7,143.5 167.9,145.0 168.1,146.5 168.3,147.6 168.4,148.0 168.6,149.4 168.8,150.9 169.0,152.4 169.2,153.9 169.4,155.4 169.6,156.9 169.9,158.4 170.1,159.8 170.1,160.0 170.3,161.3 170.5,162.8 170.7,164.3 170.9,165.8 171.2,167.3 171.4,168.7 171.6,170.2 171.8,171.7 172.0,173.2 172.2,174.7 172.4,176.2 172.7,177.7 172.9,179.1 173.1,180.6 173.3,182.0 173.3,182.1 173.5,183.6 173.8,185.1 174.0,186.6 174.2,188.0 174.4,189.5 174.7,191.0 174.9,192.5 175.1,194.0 175.3,195.5 175.5,196.9 175.8,198.4 176.0,199.9 176.0,200.0 176.2,201.4 176.4,202.9 176.6,204.4 176.8,205.8 177.0,207.3 177.2,208.8 177.4,210.3 177.7,211.8 177.9,213.3 178.1,214.8 178.3,216.2 178.4,217.0 178.5,217.7 178.7,219.2 179.0,220.7 179.2,222.2 179.5,223.7 179.7,225.1 180.0,226.6 180.2,228.1 180.5,229.6 180.7,231.1 181.0,232.5 181.2,234.0 181.4,235.5 181.6,237.0 181.9,238.5 182.1,239.9 182.2,241.0 182.3,241.4 182.4,242.9 182.6,244.4 182.8,245.9 183.0,247.4 183.1,248.9 183.3,250.4 183.4,251.9 183.6,253.4 183.7,254.9 183.8,256.0 183.8,254.5 183.9,253.0 183.9,251.5 183.9,250.0 183.9,248.5 183.9,247.0 184.0,245.5 184.0,244.0 184.0,242.5 184.0,241.0 184.0,240.0 184.0,239.5 184.0,238.0 184.0,236.5 184.0,235.0 184.0,233.5 184.0,232.0 184.0,230.5 184.0,229.0 184.0,227.5 184.0,226.0 184.0,224.5 184.0,223.0 184.0,221.5 184.0,220.0 183.9,218.5 183.9,217.0 183.9,215.5 183.9,214.0 183.9,212.5 183.9,211.0 183.9,209.5 183.9,208.0 183.9,206.5 183.9,205.0 183.9,203.5 183.9,202.0 183.9,200.5 183.9,200.0 183.9,199.0 183.9,197.5 183.9,196.0 183.9,194.5 183.9,193.0 183.9,191.5 183.9,190.0 183.9,188.5 183.9,187.0 183.9,185.5 184.0,184.0 184.0,182.5 184.0,181.0 184.0,179.5 184.0,178.0 184.0,176.5 184.0,175.0 184.0,173.5 184.1,172.0 184.1,170.5 184.1,169.0 184.1,167.5 184.1,166.0 184.1,164.5 184.2,163.0 184.2,161.5 184.2,161.0 184.2,160.0 184.3,158.5 184.3,157.0 184.4,155.5 184.5,154.0 184.5,152.5 184.6,151.0 184.7,149.5 184.8,148.0 185.0,146.5 185.1,145.0 185.2,143.5 185.3,142.4 185.3,142.0 185.5,140.5 185.7,139.1 185.9,137.6 186.1,136.1 186.3,134.6 186.5,133.1 186.7,131.6 186.9,130.1 186.9,130.0 187.1,128.6 187.2,127.2 187.3,125.7 187.5,124.2 187.7,122.7 187.9,121.2 187.9,121.0 188.1,119.7 188.4,118.2 188.7,116.8 189.1,115.3 189.5,113.9 189.9,112.4 190.0,112.0 190.3,111.0 190.7,109.5 191.1,108.1 191.6,106.7 192.1,105.2 192.2,104.9 192.6,103.8 193.2,102.5 193.8,101.1 194.5,99.7 194.8,99.1 195.2,98.4 195.9,97.0 196.8,95.8 197.3,95.4 197.9,95.0 199.4,94.4 200.9,94.0 201.4,94.0 202.3,94.2 203.8,94.9 204.8,95.6 204.9,95.7 205.9,96.8 206.7,98.2 207.4,99.6 207.5,99.8 208.0,100.9 208.5,102.3 209.0,103.7 209.6,105.1 209.8,105.8 210.1,106.6 210.6,108.0 211.1,109.4 211.7,110.7 211.9,111.1 212.4,112.1 213.3,113.3 213.8,113.9 214.3,114.4 215.5,115.4 215.5,115.4 216.9,116.0 217.7,116.1 218.3,116.0 219.8,115.7 220.0,115.6 221.2,115.0 221.8,114.9 222.6,115.1 223.3,115.5 224.0,115.8 224.6,116.0 225.4,116.0 226.9,116.0 228.4,116.0 230.0,116.0 230.8,116.0 231.4,115.9 232.9,115.5 234.2,115.1 234.3,115.1 235.8,114.7 237.2,114.3 237.4,114.3 238.7,114.0 240.2,113.7 241.6,113.4 243.1,113.1 244.6,112.7 245.7,112.5 246.0,112.4 247.5,112.0 249.0,111.6 250.5,111.3 251.2,111.3 251.9,111.5 253.1,112.4 253.2,112.5 253.7,113.6 254.1,115.0 254.5,116.6 254.7,118.0 254.7,118.2 255.0,119.6 255.2,121.1 255.4,122.6 255.6,124.1 255.7,125.6 255.8,126.3 255.9,127.1 256.0,128.6 256.1,130.1 256.2,131.6 256.2,133.1 256.3,134.6 256.4,136.1 256.5,137.6 256.5,139.1 256.6,140.6 256.6,142.1 256.7,143.6 256.7,145.0 256.7,145.1 256.7,146.6 256.8,148.1 256.8,149.6 256.8,151.1 256.8,152.6 256.9,154.1 256.9,155.6 256.9,157.1 256.9,158.6 257.0,160.1 257.0,161.6 257.0,163.1 257.0,164.6 257.0,166.1 257.0,167.6 257.0,169.1 257.1,170.6 257.1,172.1 257.1,173.6 257.1,175.1 257.1,176.6 257.1,178.1 257.1,179.6 257.1,180.0 257.1,181.1 257.1,182.6 257.1,184.1 257.1,185.6 257.1,187.1 257.1,188.6 257.1,190.1 257.1,191.6 257.1,193.1 257.1,194.6 257.1,196.1 257.1,197.6 257.1,199.1 257.1,200.6 257.1,202.1 257.1,203.6 257.1,205.1 257.1,206.6 257.1,208.1 257.1,209.6 257.1,211.1 257.1,212.6 257.1,214.1 257.1,215.6 257.1,217.1 257.1,218.6 257.1,220.1 257.1,221.6 257.1,223.1 257.1,224.6 257.1,226.1 257.1,227.6 257.1,229.1 257.1,230.6 257.1,232.1 257.1,233.6 257.2,235.1 257.2,236.6 257.2,238.1 257.2,239.6 257.2,241.1 257.2,242.6 257.2,244.1 257.2,245.6 257.2,247.1 257.2,248.6 257.2,250.1 257.2,251.6 257.2,253.1 257.2,254.6 257.2,256.1 257.2,257.6 257.2,259.1 257.2,260.6 257.2,262.1 257.2,263.6 257.2,265.1 257.2,266.6 257.2,268.1 257.2,269.6 257.2,271.1 257.2,272.6 257.2,274.1 257.2,275.6 257.2,277.1 257.2,278.6 257.2,280.1 257.2,281.6 257.2,283.1 257.2,284.6 257.2,286.1 257.2,287.6 257.2,289.1 257.2,290.6 257.2,292.1 257.2,293.6 257.2,295.1 257.2,296.6 257.2,298.1 257.2,299.6 257.2,301.1 257.2,302.6 257.2,304.1 257.2,305.6 257.2,307.1 257.2,308.6 257.2,310.1 257.2,311.6 257.2,313.1 257.2,314.6 257.2,316.1 257.2,317.6 257.2,319.1 257.2,320.6 257.2,322.1 257.2,323.6 257.2,325.1 257.2,326.6 257.2,328.1 257.2,329.6 257.2,331.1 257.2,332.6 257.2,334.1 257.2,335.6 257.2,337.1 257.2,338.6 257.2,340.1 257.2,341.6 257.2,343.1 257.2,344.6 257.2,346.1 257.2,347.6 257.2,349.1 257.2,350.6 257.2,352.1 257.2,353.6 257.2,355.1 257.2,356.6 257.2,358.1 257.2,359.6 257.2,361.1 257.2,362.6 257.2,364.1 257.2,365.6 257.2,367.1 257.2,368.6 257.2,370.1 257.2,371.6 257.2,373.1 257.2,374.6 257.2,376.1 257.2,377.6 257.2,379.1 257.2,380.6 257.2,382.1 257.2,383.6 257.2,385.1 257.2,386.6 257.2,388.1 257.2,389.6 257.2,391.1 257.2,392.6 257.2,394.1 257.2,395.6 257.2,397.1 257.2,398.6 257.2,400.1 257.2,401.5" fill="none" stroke="#00aa00" stroke-width="1.7" stroke-linejoin="round" stroke-linecap="butt"/>
<polyline points="313.8,401.5 313.8,243.7 315.0,243.7 315.0,242.2 315.0,240.7 315.0,239.2 315.0,237.7 315.0,236.2 315.0,234.7 315.0,233.2 315.0,231.7 315.0,230.2 315.0,228.7 315.0,227.2 315.0,225.7 315.0,224.2 315.0,222.7 315.0,221.2 315.1,219.7 315.1,218.2 315.1,216.7 315.1,215.2 315.1,213.7 315.1,212.2 315.1,210.7 315.1,210.0 315.1,209.2 315.1,207.7 315.1,206.2 315.2,204.7 315.2,203.2 315.3,201.7 315.3,200.2 315.3,198.7 315.4,197.2 315.4,195.7 315.4,195.0 315.4,194.2 315.4,192.7 315.4,191.2 315.5,189.7 315.5,188.2 315.5,186.7 315.5,185.2 315.5,183.7 315.5,182.2 315.5,180.7 315.5,179.2 315.6,177.7 315.6,176.6 315.6,176.2 315.7,174.7 315.9,173.2 316.2,171.7 316.3,170.5 316.3,170.2 316.4,168.8 316.5,167.3 316.6,165.8 316.7,164.3 316.8,162.8 316.9,161.3 317.0,159.8 317.1,158.3 317.1,158.3 317.3,156.8 317.5,155.3 317.8,153.8 318.0,152.3 318.3,150.9 318.4,149.8 318.4,149.4 318.6,147.9 318.7,146.4 318.9,145.0 318.9,144.9 319.2,143.4 319.5,142.0 319.9,140.5 320.3,139.0 320.7,137.6 320.9,136.9 321.1,136.2 321.6,134.8 322.1,133.4 322.7,132.0 322.9,131.5 323.3,130.6 323.9,129.2 324.5,127.8 324.9,127.0 325.1,126.5 325.8,125.1 326.4,123.7 326.9,122.6 327.0,122.4 327.7,121.1 328.4,119.7 328.9,118.9 329.2,118.4 329.9,117.2 330.8,115.9 330.9,115.7 331.6,114.7 332.6,113.5 332.9,113.1 333.5,112.4 334.6,111.3 334.9,111.0 335.7,110.3 336.8,109.3 336.9,109.2 337.9,108.3 338.9,107.5 339.1,107.3 340.2,106.3 340.9,105.8 341.4,105.4 342.6,104.5 342.9,104.3 343.9,103.7 344.9,103.0 345.1,102.9 346.4,102.1 346.9,101.8 347.7,101.4 348.9,100.7 349.0,100.6 350.3,99.9 350.9,99.5 351.6,99.1 352.9,98.5 352.9,98.4 354.3,97.7 354.9,97.4 355.6,97.1 356.9,96.4 357.0,96.4 358.3,95.7 358.9,95.4 359.7,95.1 360.9,94.5 361.0,94.4 362.4,93.8 362.9,93.5 363.7,93.1 364.9,92.6 365.1,92.5 366.5,91.9 366.9,91.8 367.9,91.4 368.9,90.9 369.2,90.8 370.6,90.3 370.9,90.2 372.0,89.7 372.9,89.4 373.4,89.2 374.9,88.7 374.9,88.7 376.3,88.2 376.9,87.9 377.7,87.7 378.9,87.2 379.1,87.2 380.5,86.7 380.9,86.5 381.9,86.2 382.9,85.9 383.4,85.7 384.8,85.2 384.9,85.2 386.2,84.8 386.9,84.6 387.6,84.3 388.9,83.9 389.1,83.9 390.5,83.4 390.9,83.2 391.9,82.9 392.9,82.6 393.3,82.4 394.8,82.0 394.9,81.9 396.2,81.5 396.9,81.3 397.6,81.1 398.9,80.6 399.0,80.6 400.5,80.2 400.9,80.0 401.9,79.7 402.9,79.4 403.3,79.3 404.8,78.8 404.9,78.8 406.2,78.4 406.9,78.2 407.6,77.9 408.9,77.6 409.1,77.5 410.5,77.1 410.9,77.0 411.9,76.6 412.9,76.4 413.4,76.2 414.8,75.8 414.9,75.8 416.3,75.4 416.9,75.2 417.7,75.0 418.9,74.6 419.1,74.5 420.6,74.1 420.9,74.0 422.0,73.7 422.9,73.5 423.5,73.3 424.9,72.9 424.9,72.9 426.4,72.5 426.9,72.4 427.8,72.1 428.9,71.8 429.3,71.7 430.7,71.3 430.9,71.3 432.2,70.9 432.9,70.7 433.6,70.5 434.9,70.2 435.1,70.2 436.5,69.8 436.9,69.6 437.9,69.4 438.9,69.1 439.4,69.0 440.8,68.6 440.9,68.6 442.3,68.2 442.9,68.0 443.7,67.8 444.9,67.5 445.2,67.4 446.6,67.0 446.9,66.9 448.1,66.6 448.9,66.4 449.5,66.2 450.9,65.8 451.0,65.8 452.4,65.4 452.9,65.3 453.9,65.0 454.9,64.7 455.3,64.6 456.8,64.2 456.9,64.2 458.2,63.8 458.9,63.7 459.7,63.4 460.9,63.1 461.1,63.1 462.6,62.7 462.9,62.6 464.0,62.3 464.9,62.0 465.5,61.9 466.9,61.5 466.9,61.5 468.3,61.1 468.9,61.0 469.8,60.7 470.9,60.5 471.3,60.4 472.7,60.0 472.9,59.9 474.2,59.6 474.9,59.4 475.6,59.2 476.9,58.9 477.1,58.8 478.5,58.5 478.9,58.4 480.0,58.1 480.9,57.8 481.4,57.7 482.9,57.3 482.9,57.3 484.3,56.9 484.9,56.8 485.8,56.6 486.9,56.3 487.2,56.2 488.7,55.8 488.9,55.8 490.1,55.4 490.9,55.2 491.6,55.1 492.9,54.7 493.0,54.7 494.5,54.3 494.9,54.2 495.9,53.9 496.9,53.7 497.4,53.6 498.8,53.2 498.9,53.2 500.3,52.8 500.9,52.7 501.7,52.5 502.9,52.2 503.2,52.1 504.6,51.7 504.9,51.6 506.1,51.3 506.9,51.1 507.6,51.0 508.9,50.6 509.0,50.6 510.5,50.2 510.9,50.1 511.9,49.9 512.9,49.6 513.4,49.5 514.8,49.1 514.9,49.1 516.3,48.7 516.9,48.6 517.7,48.4 518.9,48.1 519.2,48.0 520.6,47.6 520.9,47.6 522.1,47.3 522.9,47.1 523.5,46.9 524.9,46.6 525.0,46.5 526.5,46.2 526.9,46.0 527.9,45.8 528.9,45.5 529.4,45.4 530.8,45.1 530.9,45.0 532.3,44.7 532.9,44.5 533.7,44.3 534.9,44.0 535.2,44.0 536.6,43.6 536.9,43.5 538.1,43.2 538.9,43.0 539.5,42.9 540.9,42.5 541.0,42.5 542.5,42.1 542.9,42.0 543.9,41.8 544.9,41.5 545.4,41.4 546.8,41.0 546.9,41.0 548.3,40.7 548.9,40.5 549.7,40.3 550.9,40.0 551.2,40.0 552.6,39.6 552.9,39.5 554.1,39.2 554.9,39.0 555.6,38.9 556.9,38.5 557.0,38.5 558.5,38.1 558.9,38.0 559.9,37.8 560.9,37.5 561.4,37.4 562.8,37.1 562.9,37.0 563.5,36.9" fill="none" stroke="#00aa00" stroke-width="1.7" stroke-linejoin="round" stroke-linecap="butt"/>
<polyline points="58.5,54.0 59.5,54.0 60.0,54.0 61.5,54.0 63.0,54.1 64.5,54.1 66.0,54.2 67.5,54.3 69.0,54.4 70.5,54.5 72.0,54.6 73.5,54.7 75.0,54.8 75.7,54.9 76.5,55.0 78.0,55.1 79.5,55.3 80.9,55.4 82.4,55.6 83.9,55.8 85.4,56.0 86.0,56.1 86.9,56.2 88.4,56.4 89.9,56.6 91.4,56.9 92.8,57.1 94.3,57.3 95.8,57.5 96.3,57.6 97.3,57.7 98.8,57.9 100.3,58.1 101.7,58.3 103.2,58.5 104.7,58.7 106.2,58.9 106.6,59.0 107.7,59.2 109.2,59.4 110.7,59.6 112.1,59.8 113.6,60.1 115.1,60.3 116.6,60.6 117.0,60.7 118.0,60.9 119.5,61.2 121.0,61.5 122.4,61.9 123.9,62.2 125.4,62.6 126.8,63.0 127.3,63.1 128.3,63.4 129.7,63.8 131.1,64.2 132.6,64.7 134.0,65.1 135.4,65.6 136.8,66.1 137.6,66.4 138.2,66.6 139.6,67.2 141.0,67.7 142.4,68.3 143.8,68.9 145.2,69.5 145.9,69.9 146.5,70.2 147.7,71.0 149.0,71.8 150.2,72.7 151.4,73.6 151.7,73.8 152.7,74.5 153.9,75.4 155.0,76.3 155.4,76.7 156.0,77.4 156.9,78.7 157.7,80.0 158.1,80.8 158.3,81.3 158.9,82.7 159.3,84.1 159.8,85.6 160.0,86.5 160.1,87.0 160.5,88.5 160.8,90.0 161.0,91.4 161.3,92.9 161.4,93.7 161.5,94.4 161.7,95.9 161.9,97.4 162.1,98.9 162.2,100.4 162.4,101.9 162.4,102.0 162.5,103.4 162.7,104.8 162.8,106.3 163.0,107.8 163.1,109.3 163.3,110.8 163.4,112.3 163.4,112.3 163.6,113.8 163.7,115.3 163.9,116.8 164.0,118.3 164.2,119.8 164.3,121.3 164.5,122.6 164.5,122.8 164.7,124.2 164.9,125.7 165.2,127.2 165.4,128.7 165.6,130.0 165.6,130.2 165.9,131.7 166.1,133.1 166.3,134.6 166.5,136.1 166.8,137.6 167.0,139.1 167.2,140.5 167.5,142.0 167.7,143.5 167.9,145.0 168.1,146.5 168.3,147.6 168.4,148.0 168.6,149.4 168.8,150.9 169.0,152.4 169.2,153.9 169.4,155.4 169.6,156.9 169.9,158.4 170.1,159.8 170.1,160.0 170.3,161.3 170.5,162.8 170.7,164.3 170.9,165.8 171.2,167.3 171.4,168.7 171.6,170.2 171.8,171.7 172.0,173.2 172.2,174.7 172.4,176.2 172.7,177.7 172.9,179.1 173.1,180.6 173.3,182.0 173.3,182.1 173.5,183.6 173.8,185.1 174.0,186.6 174.2,188.0 174.4,189.5 174.7,191.0 174.9,192.5 175.1,194.0 175.3,195.5 175.5,196.9 175.8,198.4 176.0,199.9 176.0,200.0 176.2,201.4 176.4,202.9 176.6,204.4 176.8,205.8 177.0,207.3 177.2,208.8 177.4,210.3 177.7,211.8 177.9,213.3 178.1,214.8 178.3,216.2 178.4,217.0 178.5,217.7 178.7,219.2 179.0,220.7 179.2,222.2 179.5,223.7 179.7,225.1 180.0,226.6 180.2,228.1 180.5,229.6 180.7,231.1 181.0,232.5 181.2,234.0 181.4,235.5 181.6,237.0 181.9,238.5 182.1,239.9 182.2,241.0 182.3,241.4 182.4,242.9 182.6,244.4 182.8,245.9 183.0,247.4 183.1,248.9 183.3,250.4 183.4,251.9 183.6,253.4 183.7,254.9 183.8,256.0 183.8,254.5 183.9,253.0 183.9,251.5 183.9,250.0 183.9,248.5 183.9,247.0 184.0,245.5 184.0,244.0 184.0,242.5 184.0,241.0 184.0,240.0 184.0,239.5 184.0,238.0 184.0,236.5 184.0,235.0 184.0,233.5 184.0,232.0 184.0,230.5 184.0,229.0 184.0,227.5 184.0,226.0 184.0,224.5 184.0,223.0 184.0,221.5 184.0,220.0 183.9,218.5 183.9,217.0 183.9,215.5 183.9,214.0 183.9,212.5 183.9,211.0 183.9,209.5 183.9,208.0 183.9,206.5 183.9,205.0 183.9,203.5 183.9,202.0 183.9,200.5 183.9,200.0 183.9,199.0 183.9,197.5 183.9,196.0 183.9,194.5 183.9,193.0 183.9,191.5 183.9,190.0 183.9,188.5 183.9,187.0 183.9,185.5 184.0,184.0 184.0,182.5 184.0,181.0 184.0,179.5 184.0,178.0 184.0,176.5 184.0,175.0 184.0,173.5 184.1,172.0 184.1,170.5 184.1,169.0 184.1,167.5 184.1,166.0 184.1,164.5 184.2,163.0 184.2,161.5 184.2,161.0 184.2,160.0 184.3,158.5 184.3,157.0 184.4,155.5 184.5,154.0 184.5,152.5 184.6,151.0 184.7,149.5 184.8,148.0 185.0,146.5 185.1,145.0 185.2,143.5 185.3,142.4 185.3,142.0 185.5,140.5 185.7,139.1 185.9,137.6 186.1,136.1 186.3,134.6 186.5,133.1 186.7,131.6 186.9,130.1 186.9,130.0 187.1,128.6 187.2,127.2 187.3,125.7 187.5,124.2 187.7,122.7 187.9,121.2 187.9,121.0 188.1,119.7 188.4,118.2 188.7,116.8 189.1,115.3 189.5,113.9 189.9,112.4 190.0,112.0 190.3,111.0 190.7,109.5 191.1,108.1 191.6,106.7 192.1,105.2 192.2,104.9 192.6,103.8 193.2,102.5 193.8,101.1 194.5,99.7 194.8,99.1 195.2,98.4 195.9,97.0 196.8,95.8 197.3,95.4 197.9,95.0 199.4,94.4 200.9,94.0 201.4,94.0 202.3,94.2 203.8,94.9 204.8,95.6 204.9,95.7 205.9,96.8 206.7,98.2 207.4,99.6 207.5,99.8 208.0,100.9 208.5,102.3 209.0,103.7 209.6,105.1 209.8,105.8 210.1,106.6 210.6,108.0 211.1,109.4 211.7,110.7 211.9,111.1 212.4,112.1 213.3,113.3 213.8,113.9 214.3,114.4 215.5,115.4 215.5,115.4 216.9,116.0 217.7,116.1 218.3,116.0 219.8,115.7 220.0,115.6 221.2,115.0 221.8,114.9 222.6,115.1 223.3,115.5 224.0,115.8 224.6,116.0 225.4,116.0 226.9,116.0 228.4,116.0 230.0,116.0 230.8,116.0 231.4,115.9 232.9,115.5 234.2,115.1 234.3,115.1 235.8,114.6 237.2,114.3 237.4,114.3 238.8,114.3 240.3,114.4 241.5,114.6 241.7,114.6 242.9,115.6 243.6,116.4 243.8,116.8 244.5,118.1 244.9,119.6 245.2,120.8 245.2,121.1 245.5,122.5 245.6,124.0 245.8,125.5 245.9,127.0 246.0,128.5 246.0,129.0 246.1,130.0 246.1,131.5 246.2,133.0 246.3,134.5 246.3,136.0 246.4,137.5 246.4,139.0 246.5,140.5 246.5,142.0 246.6,143.5 246.6,145.0 246.6,145.0 246.6,146.5 246.7,148.0 246.7,149.5 246.7,151.0 246.7,152.5 246.8,154.0 246.8,155.5 246.8,157.0 246.8,158.5 246.8,160.0 246.9,161.5 246.9,163.0 246.9,164.5 246.9,166.0 246.9,167.5 247.0,169.0 247.0,170.5 247.0,172.0 247.0,173.5 247.0,175.0 247.0,176.5 247.0,178.0 247.0,179.5 247.0,180.0 247.0,181.0 247.0,182.5 247.0,184.0 247.0,185.5 247.0,187.0 247.0,188.5 247.0,190.0 247.0,191.5 247.0,193.0 247.0,194.5 247.0,196.0 247.0,197.5 247.0,199.0 247.0,200.5 247.0,202.0 247.0,203.5 247.0,205.0 247.0,206.5 247.0,208.0 247.0,209.5 247.0,211.0 247.0,212.5 247.0,214.0 247.0,215.5 247.0,217.0 247.0,218.5 247.0,220.0 247.0,221.5 247.0,223.0 247.0,224.5 247.0,226.0 247.0,227.5 247.0,229.0 247.0,230.5 247.0,232.0 247.0,233.5 247.0,235.0 247.0,236.5 247.0,238.0 247.0,239.5 247.0,241.0 247.0,242.5 247.0,243.0 247.0,244.0 247.0,245.5 247.0,247.0 247.0,248.5 247.0,250.0 247.0,251.5 247.0,253.0 247.0,254.5 247.0,256.0 247.0,257.5 247.0,259.0 247.0,260.5 247.0,262.0 247.0,263.5 247.0,265.0 247.0,266.5 247.0,268.0 247.0,269.5 247.0,271.0 247.0,272.5 247.0,274.0 247.0,275.5 247.0,277.0 247.0,278.5 247.0,280.0 247.0,281.5 247.0,283.0 247.0,284.5 247.0,286.0 247.0,287.5 247.0,289.0 247.0,290.5 247.0,292.0 247.0,293.5 247.0,295.0 247.0,296.5 247.0,298.0 247.0,299.5 247.0,301.0 247.0,302.5 247.0,304.0 247.0,305.5 247.0,307.0 247.0,308.5 247.0,310.0 247.0,311.5 247.0,313.0 247.0,314.5 247.0,316.0 247.0,317.5 247.0,319.0 247.0,320.5 247.0,322.0 247.0,323.5 247.0,325.0 247.0,326.5 247.0,328.0 247.0,329.5 247.0,331.0 247.0,332.5 247.0,334.0 247.0,335.5 247.0,337.0 247.0,338.5 247.0,340.0 247.0,341.5 247.0,343.0 247.0,344.5 247.0,346.0 247.0,347.5 247.0,349.0 247.0,350.5 247.0,352.0 247.0,353.5 247.0,355.0 247.0,356.5 247.0,358.0 247.0,359.5 247.0,361.0 247.0,362.5 247.0,364.0 247.0,365.5 247.0,367.0 247.0,368.5 247.0,370.0 247.0,371.5 247.0,373.0 247.0,374.5 247.0,376.0 247.0,377.5 247.0,379.0 247.0,380.5 247.0,382.0 247.0,383.5 247.0,385.0 247.0,386.5 247.0,388.0 247.0,389.5 247.0,391.0 247.0,392.5 247.0,394.0 247.0,395.5 247.0,397.0 247.0,398.5 247.0,400.0 247.0,401.5" fill="none" stroke="#560064" stroke-width="1.7" stroke-linejoin="round" stroke-linecap="butt"/>
<polyline points="400.6,401.5 400.6,243.7 402.4,243.7 402.4,242.2 402.4,240.7 402.4,239.2 402.4,237.7 402.4,236.2 402.4,234.7 402.4,233.2 402.4,231.7 402.4,230.2 402.4,228.7 402.4,227.2 402.4,225.7 402.4,224.2 402.4,222.7 402.4,221.2 402.4,219.7 402.4,218.2 402.4,216.7 402.4,215.2 402.4,213.7 402.4,212.2 402.4,210.7 402.4,209.2 402.4,207.7 402.4,206.2 402.4,204.7 402.4,203.2 402.4,201.7 402.4,200.2 402.4,200.0 402.4,198.7 402.4,197.2 402.4,195.7 402.4,194.2 402.4,192.7 402.4,191.2 402.4,189.7 402.4,188.2 402.4,186.7 402.4,185.2 402.4,183.7 402.4,182.2 402.4,180.7 402.4,179.2 402.4,177.7 402.4,176.2 402.4,174.7 402.4,173.2 402.4,171.7 402.5,170.2 402.5,168.7 402.5,167.2 402.5,165.7 402.5,164.2 402.5,162.7 402.5,161.2 402.5,160.0 402.5,159.7 402.5,158.2 402.5,156.7 402.6,155.2 402.6,153.7 402.7,152.2 402.7,150.7 402.8,149.2 402.9,147.7 402.9,146.2 403.0,145.0 403.0,144.7 403.1,143.2 403.2,141.7 403.4,140.2 403.6,138.7 403.7,137.2 403.9,135.8 404.1,134.3 404.3,133.0 404.3,132.8 404.5,131.3 404.8,129.8 405.0,128.3 405.3,126.8 405.5,125.4 405.8,123.9 406.1,122.4 406.2,122.0 406.4,121.0 406.8,119.5 407.2,118.1 407.6,116.6 408.0,115.2 408.1,114.9 408.4,113.7 408.8,112.3 409.3,110.9 409.5,110.0 409.7,109.4 410.0,108.0 410.4,106.5 410.8,105.1 411.3,103.6 411.3,103.5 411.8,102.2 412.4,100.8 413.0,99.5 413.4,98.6 413.6,98.1 414.3,96.8 415.0,95.5 415.3,95.0 415.8,94.2 416.7,92.9 417.6,91.8 417.7,91.6 418.6,90.6 419.6,89.6 420.0,89.2 420.7,88.5 421.7,87.4 422.0,87.2 422.8,86.4 423.9,85.4 424.0,85.3 425.0,84.4 426.0,83.6 426.2,83.4 427.4,82.5 428.0,82.0 428.6,81.6 429.8,80.7 430.0,80.6 431.1,79.9 432.0,79.4 432.4,79.1 433.7,78.4 434.0,78.2 435.0,77.7 436.0,77.2 436.3,77.0 437.7,76.4 438.0,76.2 439.0,75.7 440.0,75.1 440.3,74.9 441.6,74.2 442.0,74.0 443.0,73.5 444.0,73.0 444.3,72.9 445.6,72.2 446.0,72.0 447.0,71.5 448.0,71.0 448.3,70.9 449.7,70.3 450.0,70.1 451.1,69.7 452.0,69.3 452.5,69.1 453.8,68.5 454.0,68.4 455.2,68.0 456.0,67.7 456.6,67.4 458.0,66.9 458.1,66.9 459.5,66.4 460.0,66.2 460.9,65.9 462.0,65.6 462.3,65.5 463.8,65.1 464.0,65.1 465.2,64.7 466.0,64.5 466.7,64.3 468.0,63.8 468.1,63.7 469.4,63.2 470.0,63.0 470.9,62.7 472.0,62.3 472.3,62.2 473.7,61.7 474.0,61.6 475.1,61.3 476.0,61.0 476.6,60.9 478.0,60.5 478.0,60.5 479.5,60.0 480.0,59.9 480.9,59.6 482.0,59.3 482.3,59.2 483.8,58.8 484.0,58.7 485.2,58.3 486.0,58.1 486.7,57.9 488.0,57.5 488.1,57.5 489.5,57.1 490.0,57.0 491.0,56.7 492.0,56.4 492.4,56.3 493.9,55.8 494.0,55.8 495.3,55.4 496.0,55.2 496.8,55.0 498.0,54.7 498.2,54.6 499.6,54.2 500.0,54.1 501.1,53.8 502.0,53.5 502.5,53.4 504.0,52.9 504.0,52.9 505.4,52.5 506.0,52.4 506.8,52.1 508.0,51.8 508.3,51.7 509.7,51.3 510.0,51.2 511.2,50.8 512.0,50.6 512.6,50.4 514.0,50.0 514.0,50.0 515.5,49.6 516.0,49.4 516.9,49.2 518.0,48.9 518.4,48.8 519.8,48.4 520.0,48.3 521.3,48.0 522.0,47.8 522.7,47.6 524.0,47.2 524.1,47.2 525.6,46.8 526.0,46.7 527.0,46.4 528.0,46.1 528.5,46.0 529.9,45.6 530.0,45.6 531.4,45.2 532.0,45.1 532.8,44.9 534.0,44.6 534.3,44.5 535.8,44.1 536.0,44.0 537.2,43.7 538.0,43.5 538.7,43.4 540.0,43.0 540.1,43.0 541.6,42.6 542.0,42.5 543.0,42.2 544.0,42.0 544.5,41.8 545.9,41.5 546.0,41.4 547.4,41.1 548.0,40.9 548.8,40.7 550.0,40.4 550.3,40.3 551.7,39.9 552.0,39.9 553.2,39.6 554.0,39.3 554.6,39.2 556.0,38.8 556.1,38.8 557.5,38.4 558.0,38.3 559.0,38.1 560.0,37.8 560.4,37.7 561.9,37.3 562.0,37.3 563.3,36.9 563.5,36.9" fill="none" stroke="#560064" stroke-width="1.7" stroke-linejoin="round" stroke-linecap="butt"/>
</g>
<text x="55.5" y="27.65" font-size="19.5" text-anchor="end" fill="#000">0</text>
<text x="55.5" y="90.65" font-size="19.5" text-anchor="end" fill="#000">1</text>
<path d="M33.2 85.70H44.0" stroke="#000" stroke-width="1.1" fill="none"/>
<text x="55.5" y="153.65" font-size="19.5" text-anchor="end" fill="#000">2</text>
<path d="M33.2 148.70H44.0" stroke="#000" stroke-width="1.1" fill="none"/>
<text x="55.5" y="216.65" font-size="19.5" text-anchor="end" fill="#000">3</text>
<path d="M33.2 211.70H44.0" stroke="#000" stroke-width="1.1" fill="none"/>
<text x="55.5" y="279.65" font-size="19.5" text-anchor="end" fill="#000">4</text>
<path d="M33.2 274.70H44.0" stroke="#000" stroke-width="1.1" fill="none"/>
<text x="55.5" y="342.65" font-size="19.5" text-anchor="end" fill="#000">5</text>
<path d="M33.2 337.70H44.0" stroke="#000" stroke-width="1.1" fill="none"/>
<text x="55.5" y="405.65" font-size="19.5" text-anchor="end" fill="#000">6</text>
<path d="M33.2 400.70H44.0" stroke="#000" stroke-width="1.1" fill="none"/>
<text x="158.6" y="418.4" font-size="19.5" text-anchor="middle" fill="#000">50</text>
<text x="235.0" y="418.4" font-size="19.5" text-anchor="middle" fill="#000">100</text>
<text x="410.6" y="418.4" font-size="19.5" text-anchor="middle" fill="#000">500</text>
<text x="482.9" y="441.5" font-size="19.5" fill="#000">m<tspan dy="4" font-size="15">S</tspan><tspan dy="2" font-size="10.5">1</tspan><tspan dy="-6"> (GeV)</tspan></text>
<text transform="translate(13.1,100.0) rotate(-90)" font-size="20" fill="#000">Log<tspan dx="-1" dy="4" font-size="14.5">10</tspan><tspan dx="1" dy="-4"> λ</tspan><tspan dx="-1.3" dy="4.4" font-size="15.5">S</tspan></text>
</svg></body></html>
